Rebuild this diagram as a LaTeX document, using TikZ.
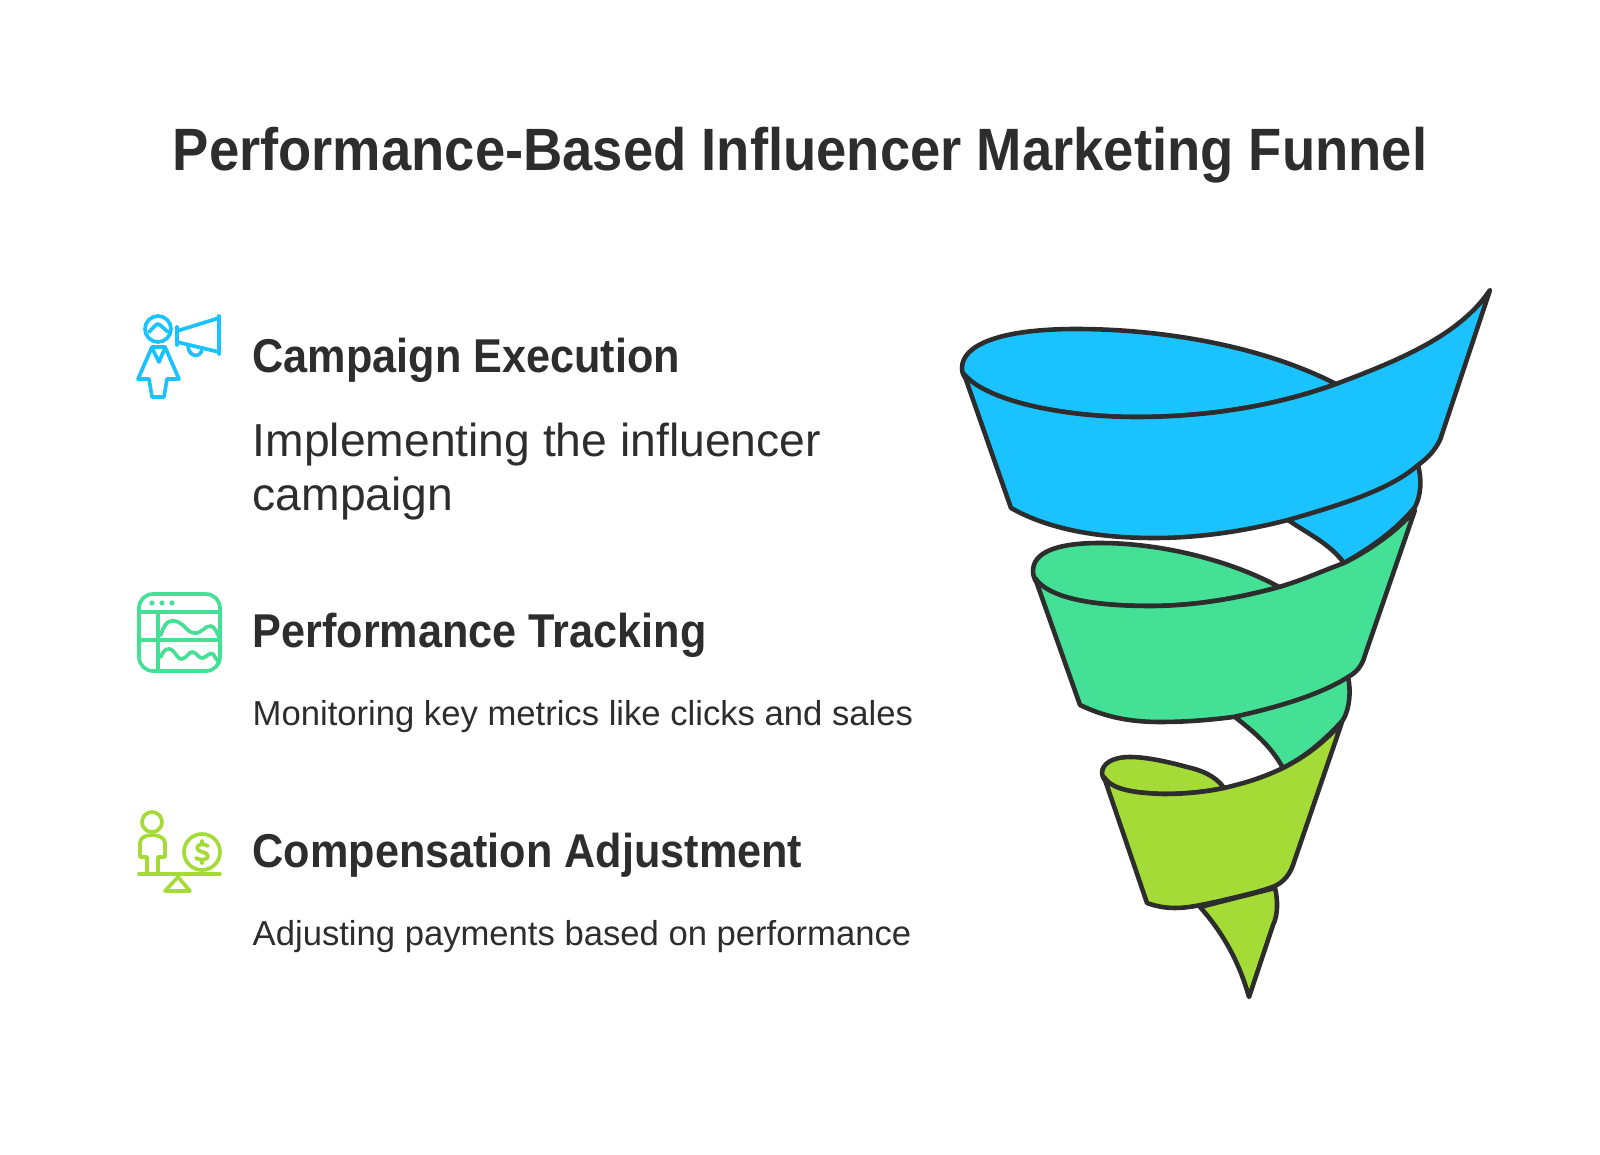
\documentclass[tikz,border=0pt]{standalone}
\usepackage{fontspec}
\setmainfont[BoldFeatures={FakeStretch=0.91}]{Liberation Sans}
\definecolor{inkgray}{HTML}{2D2D2D}
\definecolor{bandblue}{HTML}{1AC3FF}
\definecolor{bandgreen}{HTML}{44E096}
\definecolor{bandlime}{HTML}{A5DB36}

\begin{document}
\begin{tikzpicture}[x=0.01cm,y=-0.01cm,
    band/.style={draw=inkgray,line width=1.3pt,line join=round},
    icon/.style={line width=1.05pt,line join=round,line cap=round},
    title/.style={anchor=base,inner sep=0,text=inkgray,font=\bfseries\fontsize{17}{20}\selectfont},
    heading/.style={anchor=base west,inner sep=0,text=inkgray,font=\bfseries\fontsize{13.5}{16}\selectfont},
    bigtext/.style={anchor=base west,inner sep=0,text=inkgray,font=\fontsize{13.15}{16}\selectfont},
    bodytext/.style={anchor=base west,inner sep=0,text=inkgray,font=\fontsize{9.85}{12}\selectfont}]

  \useasboundingbox (0,0) rectangle (1600,1155);

  \node[title] (title) at (800,171) {Performance-Based Influencer Marketing Funnel};

  \node[heading] (head1) at (252,373) {Campaign Execution};
  \node[bigtext] (line1a) at (252,456) {Implementing the influencer};
  \node[bigtext] (line1b) at (252,510) {campaign};
  \node[heading] (head2) at (252,647) {Performance Tracking};
  \node[bodytext] (line2) at (252,725) {Monitoring key metrics like clicks and sales};
  \node[heading] (head3) at (252,867) {Compensation Adjustment};
  \node[bodytext] (line3) at (252,945) {Adjusting payments based on performance};

  % first icon
  \begin{scope}[icon,draw=bandblue]
    \draw (158,329) circle (13);
    \draw (149,332) .. controls (153,328) and (155,325) .. (158,324) .. controls (161,325) and (163,328) .. (168,332);
    \draw (152,347) -- (165,347) -- (179,379) -- (167,379) -- (164,397) -- (152,397) -- (149,379) -- (138,379) -- cycle;
    \draw (152,348) -- (159,362) -- (165,348);
    \draw (177,327) -- (177,345);
    \draw (177,331) -- (219,318) -- (219,352) -- (177,342);
    \draw (219,316) -- (219,354);
    \draw (188,346) .. controls (189,358) and (201,358) .. (202,349);
  \end{scope}

  % second icon
  \begin{scope}[icon,draw=bandgreen]
    \draw[rounded corners=4] (139,594) rectangle (220,671);
    \draw (139,612) -- (220,612);
    \draw (139,640) -- (220,640);
    \draw (158,612) -- (158,671);
    \foreach \dotx in {152,162,172}
      \fill[bandgreen] (\dotx,603) circle (2.6);
    \draw (161,635) .. controls (165,620) and (172,619) .. (178,622) .. controls (186,626) and (188,633) .. (194,633) .. controls (202,634) and (205,625) .. (211,626) .. controls (215,627) and (217,633) .. (219,637);
    \draw (161,657) .. controls (163,650) and (168,647) .. (172,650) .. controls (176,653) and (178,660) .. (182,659) .. controls (187,658) and (189,651) .. (193,652) .. controls (197,653) and (199,659) .. (203,658) .. controls (207,657) and (209,652) .. (213,654) -- (219,663);
  \end{scope}

  % third icon
  \begin{scope}[icon,draw=bandlime]
    \draw (152,822) circle (10);
    \draw (147,873) -- (147,857) -- (140,857) -- (140,843) .. controls (140,838) and (145,835) .. (152,835) .. controls (159,835) and (165,838) .. (165,843) -- (165,857) -- (158,857) -- (158,873);
    \draw (139,874) -- (220,874);
    \draw (178,877) -- (165,891) -- (190,891) -- cycle;
    \draw (202,852) circle (18);
    \draw (208,846) .. controls (204,843) and (197,844) .. (197,848) .. controls (197,853) and (208,851) .. (208,856) .. controls (208,860) and (200,861) .. (196,858);
    \draw (202,841) -- (202,844);
    \draw (202,860) -- (202,863);
  \end{scope}

  % funnel ribbon, from the top down
  \draw[band,fill=bandblue] (1418,465) .. controls (1422,480) and (1421,495) .. (1415,507)
    .. controls (1396,530) and (1372,547) .. (1344,563)
    .. controls (1330,544) and (1310,535) .. (1288,520) -- cycle;
  \draw[band,fill=bandblue] (1336,384) .. controls (1260,345) and (1160,329) .. (1076,329)
    .. controls (1000,329) and (962,345) .. (962,368) .. controls (962,372) and (963,374) .. (964,376)
    .. controls (985,400) and (1060,417) .. (1136,417)
    .. controls (1200,417) and (1270,408) .. (1336,384) -- cycle;
  \draw[band,fill=bandblue] (964,374) -- (1011,508)
    .. controls (1050,530) and (1100,538) .. (1154,538)
    .. controls (1200,538) and (1245,531) .. (1288,520)
    .. controls (1340,505) and (1390,490) .. (1418,465)
    .. controls (1428,458) and (1435,450) .. (1440,440)
    -- (1490,290)
    .. controls (1460,335) and (1400,360) .. (1336,384)
    .. controls (1270,408) and (1200,417) .. (1136,417)
    .. controls (1060,417) and (985,400) .. (964,374) -- cycle;

  \draw[band,fill=bandgreen] (1348,677) .. controls (1351,690) and (1350,708) .. (1343,720)
    .. controls (1325,740) and (1305,757) .. (1283,768)
    .. controls (1270,745) and (1255,733) .. (1235,717) -- cycle;
  \draw[band,fill=bandgreen] (1279,587) .. controls (1230,560) and (1160,543) .. (1100,543)
    .. controls (1055,543) and (1033,553) .. (1033,571) .. controls (1033,575) and (1034,577) .. (1035,580)
    .. controls (1050,600) and (1100,606) .. (1150,606)
    .. controls (1195,606) and (1240,598) .. (1279,587) -- cycle;
  \draw[band,fill=bandgreen] (1035,578) -- (1080,705)
    .. controls (1105,717) and (1130,722) .. (1160,722)
    .. controls (1185,722) and (1210,720) .. (1233,717)
    .. controls (1275,708) and (1320,695) .. (1348,677)
    .. controls (1357,672) and (1362,666) .. (1365,655)
    -- (1415,510)
    .. controls (1398,530) and (1372,549) .. (1344,563)
    .. controls (1320,572) and (1300,581) .. (1279,587)
    .. controls (1240,598) and (1195,606) .. (1150,606)
    .. controls (1100,606) and (1050,600) .. (1035,578) -- cycle;

  \draw[band,fill=bandlime] (1275,888) .. controls (1278,900) and (1278,915) .. (1273,925)
    -- (1249,997)
    .. controls (1240,965) and (1225,935) .. (1200,907) -- cycle;
  \draw[band,fill=bandlime] (1224,788) .. controls (1215,775) and (1200,770) .. (1187,767)
    .. controls (1165,761) and (1145,757) .. (1130,757)
    .. controls (1112,757) and (1102,764) .. (1102,773) .. controls (1102,775) and (1103,777) .. (1104,779)
    .. controls (1112,790) and (1135,793) .. (1163,794)
    .. controls (1185,794) and (1205,792) .. (1224,788) -- cycle;
  \draw[band,fill=bandlime] (1104,777) -- (1147,903)
    .. controls (1155,906) and (1165,908) .. (1175,908)
    .. controls (1190,908) and (1205,904) .. (1220,901)
    .. controls (1240,896) and (1260,892) .. (1275,886)
    .. controls (1283,882) and (1289,876) .. (1293,865)
    -- (1342,722)
    .. controls (1325,742) and (1305,757) .. (1283,768)
    .. controls (1262,778) and (1245,783) .. (1224,788)
    .. controls (1205,792) and (1185,794) .. (1163,794)
    .. controls (1135,793) and (1112,790) .. (1104,777) -- cycle;
\end{tikzpicture}
\end{document}
